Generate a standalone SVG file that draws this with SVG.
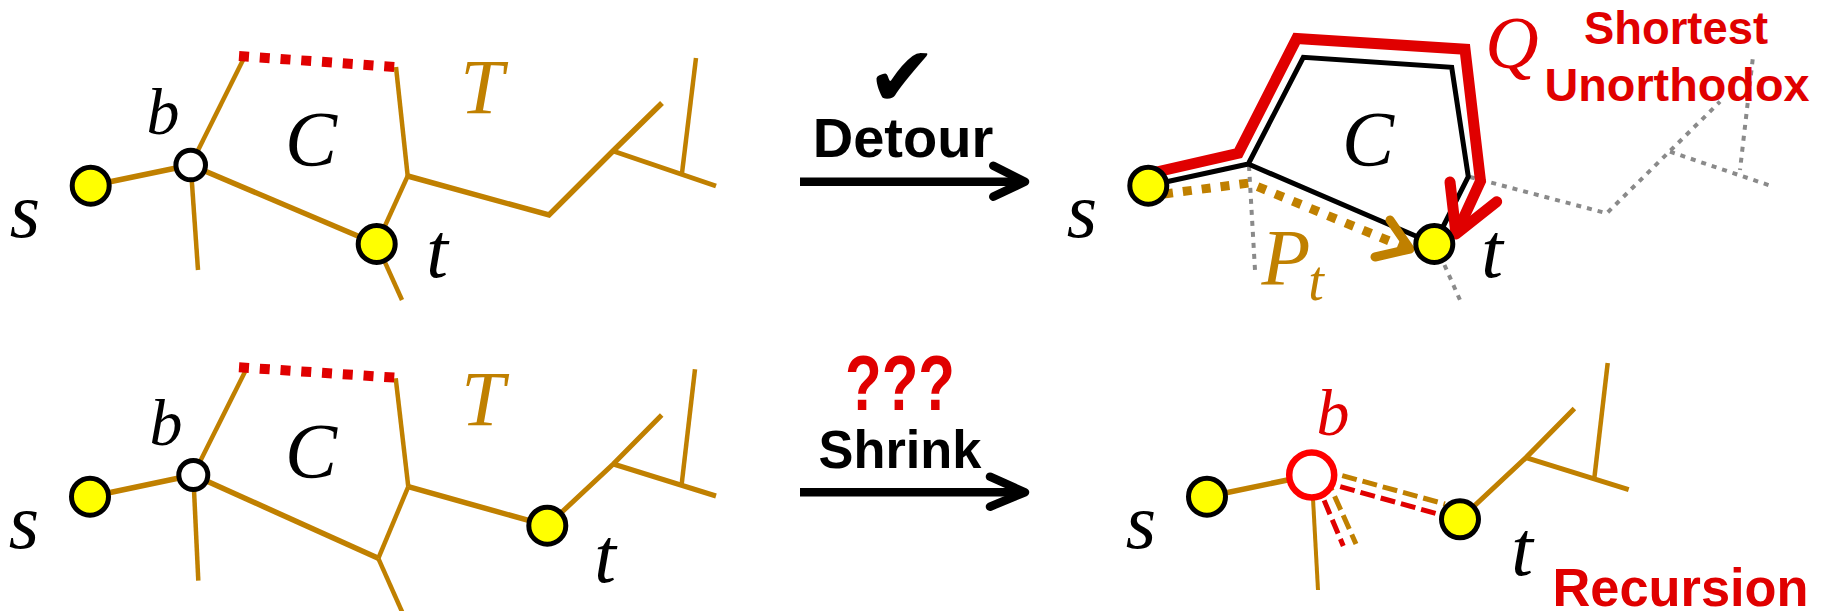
<svg xmlns="http://www.w3.org/2000/svg" width="1822" height="611" viewBox="0 0 1822 611">
  <defs>
    <style>
      .tree { fill: none; stroke: #C08000; stroke-linecap: butt; stroke-linejoin: miter; }
      .w5 { stroke-width: 5.5; }
      .w45 { stroke-width: 5; }
      .w4 { stroke-width: 4.5; }
      .w35 { stroke-width: 4; }
      .cut { fill: none; stroke: #E00000; stroke-width: 10; stroke-dasharray: 10 10.8; }
      .ghost { fill: none; stroke: #8A8A8A; stroke-width: 4; stroke-dasharray: 5 6; }
      .cycle { fill: none; stroke: #000; stroke-width: 5; stroke-linejoin: miter; }
      .qpath { fill: none; stroke: #E00000; stroke-width: 11; stroke-linejoin: miter; }
      .qhead { fill: none; stroke: #E00000; stroke-width: 11; stroke-linecap: round; stroke-linejoin: round; }
      .ppath { fill: none; stroke: #C08000; stroke-width: 9; stroke-dasharray: 9 10; }
      .phead { fill: none; stroke: #C08000; stroke-width: 9; stroke-linecap: round; stroke-linejoin: round; }
      .shrunkGold { fill: none; stroke: #C08000; stroke-width: 5; stroke-dasharray: 15 6; }
      .shrunkRed { fill: none; stroke: #E00000; stroke-width: 5; stroke-dasharray: 15 6; }
      .shaft { fill: none; stroke: #000; stroke-width: 8.5; }
      .barb { fill: none; stroke: #000; stroke-width: 8.5; stroke-linecap: round; stroke-linejoin: round; }
      .term { fill: #FFFF00; stroke: #000; stroke-width: 5; }
      .hub { fill: #FFFFFF; stroke: #000; stroke-width: 5; }
      .hubRed { fill: #FFFFFF; stroke: #FF0000; stroke-width: 6.5; }
      .math { font-family: "Liberation Serif", "Times New Roman", serif; font-style: italic; text-anchor: middle; fill: #000; }
      .bold { font-family: "Liberation Sans", Arial, sans-serif; font-weight: bold; text-anchor: middle; }
      .gold { fill: #C08000; }
      .red { fill: #E00000; }
    </style>
  </defs>

  <rect width="1822" height="611" fill="#FFFFFF"/>

  <!-- connectors: tree edges, cut edges, paths and transition arrows -->
  <g id="connectors">
    <!-- top-left: tree T with cycle C closed by the dashed edge -->
    <g id="tree-top-left">
      <line class="tree w5" x1="90.7" y1="185.7" x2="190.7" y2="165"/>
      <line class="tree w4" x1="190.7" y1="165" x2="244" y2="58"/>
      <line class="tree w4" x1="190.7" y1="165" x2="198" y2="270"/>
      <line class="tree w5" x1="190.7" y1="165" x2="376.7" y2="244"/>
      <line class="tree w4" x1="396" y1="67" x2="407.7" y2="176"/>
      <line class="tree w4" x1="407.7" y1="176" x2="376.7" y2="244"/>
      <line class="tree w4" x1="376.7" y1="244" x2="402" y2="300"/>
      <polyline class="tree w5" points="407.7,176 549,215 613,151 662,103"/>
      <line class="tree w45" x1="613" y1="151" x2="716" y2="186"/>
      <line class="tree w4" x1="696" y1="58" x2="682" y2="173"/>
      <line class="cut" x1="239" y1="56" x2="395.5" y2="67"/>
    </g>

    <!-- top-right: detour along C -->
    <g id="detour-top-right">
      <line class="ghost" x1="1249" y1="166" x2="1255" y2="270"/>
      <line class="ghost" x1="1440" y1="255" x2="1460" y2="300"/>
      <polyline class="ghost" points="1470,177 1606.7,213.3 1720,101.7"/>
      <line class="ghost" x1="1670" y1="151.7" x2="1773.3" y2="186.7"/>
      <line class="ghost" x1="1752.7" y1="59.3" x2="1740" y2="170"/>
      <path class="cycle" d="M1148.3,185.7 L1248.3,164 L1303.3,57.3 L1451.7,67.3 L1468.3,176.7 L1434.3,244 M1248.3,164 L1434.3,244"/>
      <path class="ppath" d="M1164,194 L1249,183 L1404,247"/>
      <path class="phead" d="M1390,220 L1410,249 L1375,257"/>
      <path class="qpath" d="M1152,173 L1238.3,153.3 L1296.7,38.5 L1465,49.3 L1480.5,181 L1458,230"/>
      <path class="qhead" d="M1450,182 L1456,234 L1496.7,201.7"/>
    </g>

    <!-- bottom-left: same tree, t further along -->
    <g id="tree-bottom-left">
      <line class="tree w5" x1="90" y1="496.7" x2="193.3" y2="475"/>
      <line class="tree w4" x1="193.3" y1="475" x2="245" y2="371.7"/>
      <line class="tree w4" x1="193.3" y1="475" x2="198.3" y2="580.7"/>
      <line class="tree w5" x1="193.3" y1="475" x2="378.3" y2="558.3"/>
      <line class="tree w4" x1="395.7" y1="378.3" x2="408.3" y2="486.7"/>
      <line class="tree w4" x1="378.3" y1="558.3" x2="408.3" y2="486.7"/>
      <line class="tree w4" x1="378.3" y1="558.3" x2="403.5" y2="615"/>
      <line class="tree w5" x1="408.3" y1="486.7" x2="547.3" y2="525.7"/>
      <polyline class="tree w45" points="547.3,525.7 613.3,464 661.7,415"/>
      <line class="tree w45" x1="613.3" y1="464" x2="716" y2="496"/>
      <line class="tree w4" x1="695" y1="369.3" x2="681.7" y2="484"/>
      <line class="cut" x1="239" y1="367.3" x2="396" y2="377.7"/>
    </g>

    <!-- bottom-right: cycle shrunk into b -->
    <g id="shrunk-bottom-right">
      <line class="tree w5" x1="1207" y1="496.7" x2="1311.7" y2="475"/>
      <line class="tree w35" x1="1311.7" y1="475" x2="1318" y2="590"/>
      <polyline class="tree w45" points="1460,519.3 1526,457.6 1574.4,408.6"/>
      <line class="tree w45" x1="1526" y1="457.6" x2="1628.7" y2="489.6"/>
      <line class="tree w4" x1="1607.7" y1="362.9" x2="1594.4" y2="477.6"/>
      <line class="shrunkGold" x1="1322" y1="470" x2="1445" y2="504"/>
      <line class="shrunkRed" x1="1320" y1="481" x2="1445" y2="516"/>
      <line class="shrunkRed" x1="1316" y1="481" x2="1343.3" y2="546"/>
      <line class="shrunkGold" x1="1326" y1="477" x2="1356" y2="544"/>
    </g>

    <!-- transition arrows -->
    <g id="arrow-detour">
      <line class="shaft" x1="800" y1="181.7" x2="1022" y2="181.7"/>
      <path class="barb" d="M993.3,165.7 L1025,181.7 L993.3,196.7"/>
    </g>
    <g id="arrow-shrink">
      <line class="shaft" x1="800" y1="492.3" x2="1022" y2="492.3"/>
      <path class="barb" d="M990,476.7 L1025,492.3 L990,506.7"/>
    </g>
  </g>

  <!-- top-left nodes -->
  <g id="tl-s"><circle class="term" cx="90.7" cy="185.7" r="18.5"/><text class="math" x="25" y="237" font-size="78">s</text></g>
  <g id="tl-b"><circle class="hub" cx="190.7" cy="165" r="14.8"/><text class="math" x="163" y="134" font-size="66">b</text></g>
  <g id="tl-t"><circle class="term" cx="376.7" cy="244" r="18.5"/><text class="math" x="437" y="277" font-size="78">t</text></g>
  <g id="tl-labels">
    <text class="math" x="311" y="165" font-size="78">C</text>
    <text class="math gold" x="482" y="113" font-size="78">T</text>
  </g>

  <!-- top-right nodes -->
  <g id="tr-s"><circle class="term" cx="1148.3" cy="185.7" r="18.5"/><text class="math" x="1082" y="237" font-size="78">s</text></g>
  <g id="tr-t"><circle class="term" cx="1434.3" cy="244" r="18.5"/><text class="math" x="1492" y="277" font-size="78">t</text></g>
  <g id="tr-labels">
    <text class="math" x="1368" y="165" font-size="78">C</text>
    <text class="math red" x="1512" y="68" font-size="74">Q</text>
    <text class="math gold" x="1286" y="285" font-size="80">P</text>
    <text class="math gold" x="1316" y="300" font-size="56">t</text>
    <text class="bold red" x="1676" y="44" font-size="47" textLength="184" lengthAdjust="spacingAndGlyphs">Shortest</text>
    <text class="bold red" x="1677" y="101" font-size="47" textLength="265" lengthAdjust="spacingAndGlyphs">Unorthodox</text>
  </g>

  <!-- bottom-left nodes -->
  <g id="bl-s"><circle class="term" cx="90" cy="496.7" r="18.5"/><text class="math" x="24" y="548" font-size="78">s</text></g>
  <g id="bl-b"><circle class="hub" cx="193.3" cy="475" r="14.5"/><text class="math" x="166" y="445" font-size="66">b</text></g>
  <g id="bl-t"><circle class="term" cx="547.3" cy="525.7" r="18.5"/><text class="math" x="605" y="581.7" font-size="78">t</text></g>
  <g id="bl-labels">
    <text class="math" x="311" y="476.7" font-size="78">C</text>
    <text class="math gold" x="483" y="425" font-size="78">T</text>
  </g>

  <!-- bottom-right nodes -->
  <g id="br-s"><circle class="term" cx="1207" cy="496.7" r="18.5"/><text class="math" x="1141" y="548" font-size="78">s</text></g>
  <g id="br-b"><circle class="hubRed" cx="1311.7" cy="475" r="22.5"/><text class="math red" x="1333" y="435" font-size="66">b</text></g>
  <g id="br-t"><circle class="term" cx="1460" cy="519.3" r="18.5"/><text class="math" x="1522" y="575" font-size="78">t</text></g>
  <g id="br-labels">
    <text class="bold red" x="1680.5" y="606" font-size="54" textLength="256" lengthAdjust="spacingAndGlyphs">Recursion</text>
  </g>

  <!-- transition captions -->
  <g id="caption-detour">
    <text x="902" y="106" font-family="DejaVu Sans, sans-serif" font-size="84" text-anchor="middle" fill="#000">✔</text>
    <text class="bold" x="903" y="156.7" font-size="56" fill="#000" textLength="180.6" lengthAdjust="spacingAndGlyphs">Detour</text>
  </g>
  <g id="caption-shrink">
    <text class="bold red" x="900" y="410" font-size="78" textLength="110" lengthAdjust="spacingAndGlyphs">???</text>
    <text class="bold" x="900" y="468.3" font-size="54" fill="#000" textLength="163" lengthAdjust="spacingAndGlyphs">Shrink</text>
  </g>
</svg>
